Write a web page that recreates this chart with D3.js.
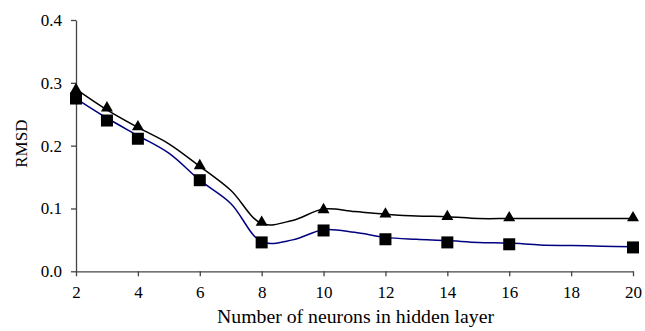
<!DOCTYPE html>
<html>
<head>
<meta charset="utf-8">
<script src="https://cdn.jsdelivr.net/npm/d3@7"></script>
<style>
  body { margin: 0; background: #fff; }
  text { font-family: "Liberation Serif", "Times New Roman", serif; fill: #000; }
</style>
</head>
<body>
<div id="chart"></div>
<script>
// smoothed lines, one value per neuron count
var lineX = [2, 3, 4, 5, 6, 7, 8, 9, 10, 11, 12, 13, 14, 15, 16, 17, 18, 19, 20];
var blackLine = [0.290, 0.257, 0.229, 0.203, 0.167, 0.129, 0.076, 0.081, 0.099, 0.095, 0.091, 0.088, 0.087, 0.084, 0.084, 0.084, 0.084, 0.084, 0.084];
var blueLine = [0.275, 0.244, 0.216, 0.188, 0.145, 0.108, 0.047, 0.050, 0.066, 0.062, 0.054, 0.051, 0.049, 0.046, 0.045, 0.042, 0.041, 0.040, 0.039];

// marker points
var markX = [2, 3, 4, 6, 8, 10, 12, 14, 16, 20];
var triangleVals = [0.289, 0.260, 0.230, 0.168, 0.078, 0.098, 0.091, 0.087, 0.085, 0.085];
var squareVals = [0.275, 0.240, 0.211, 0.145, 0.046, 0.065, 0.051, 0.046, 0.043, 0.038];

var xTicks = [2, 4, 6, 8, 10, 12, 14, 16, 18, 20];
var yTicks = [0, 0.1, 0.2, 0.3, 0.4];

var margin = {top: 20, right: 12, bottom: 60, left: 76},
    width = 645 - margin.left - margin.right,
    height = 331 - margin.top - margin.bottom;

var svg = d3.select("#chart").append("svg")
    .attr("width", 645)
    .attr("height", 331)
  .append("g")
    .attr("transform", "translate(" + margin.left + "," + margin.top + ")");

var x = d3.scaleLinear().domain([2, 20]).range([0, 557]);
var y = d3.scaleLinear().domain([0, 0.4]).range([height + 0.3, 0]);

var xAxis = d3.axisBottom(x).tickValues(xTicks).tickSize(5).tickSizeOuter(0).tickPadding(10)
    .tickFormat(d3.format("d"));
var yAxis = d3.axisLeft(y).tickValues(yTicks).tickSize(5).tickSizeOuter(0).tickPadding(9)
    .tickFormat(d3.format(".1f"));

var gx = svg.append("g")
    .attr("transform", "translate(0," + y(0) + ")")
    .call(xAxis);
var gy = svg.append("g").call(yAxis);

[gx, gy].forEach(function(g){
  g.select(".domain").attr("stroke", "#444").attr("stroke-width", 1.3);
  g.selectAll(".tick line").attr("stroke", "#444").attr("stroke-width", 1.3);
  g.selectAll(".tick text").style("font-size", "17px").style("font-family", "Liberation Serif");
});

svg.append("text")
    .attr("x", x(11) + 1)
    .attr("y", 303)
    .attr("text-anchor", "middle")
    .attr("textLength", 277)
    .attr("lengthAdjust", "spacingAndGlyphs")
    .style("font-size", "18px")
    .text("Number of neurons in hidden layer");

svg.append("text")
    .attr("transform", "translate(-49," + (y(0.2) - 2) + ") rotate(-90)")
    .attr("text-anchor", "middle")
    .style("font-size", "17px")
    .text("RMSD");

var line = d3.line()
    .x(function(d){ return x(d[0]); })
    .y(function(d){ return y(d[1]); })
    .curve(d3.curveCatmullRom.alpha(0.5));

svg.append("path")
    .datum(lineX.map(function(v, i){ return [v, blackLine[i]]; }))
    .attr("fill", "none")
    .attr("stroke", "#000")
    .attr("stroke-width", 1.5)
    .attr("d", line);

svg.append("path")
    .datum(lineX.map(function(v, i){ return [v, blueLine[i]]; }))
    .attr("fill", "none")
    .attr("stroke", "#000080")
    .attr("stroke-width", 1.5)
    .attr("d", line);

var tri = d3.symbol().type(d3.symbolTriangle).size(62);
svg.selectAll(".tri")
    .data(markX.map(function(v, i){ return [v, triangleVals[i]]; }))
    .enter().append("path")
    .attr("class", "tri")
    .attr("transform", function(d){ return "translate(" + x(d[0]) + "," + y(d[1]) + ")"; })
    .attr("d", tri)
    .attr("fill", "#000");

svg.selectAll(".sq")
    .data(markX.map(function(v, i){ return [v, squareVals[i]]; }))
    .enter().append("rect")
    .attr("class", "sq")
    .attr("x", function(d){ return x(d[0]) - 6; })
    .attr("y", function(d){ return y(d[1]) - 6; })
    .attr("width", 12)
    .attr("height", 12)
    .attr("fill", "#000");
</script>
</body>
</html>
